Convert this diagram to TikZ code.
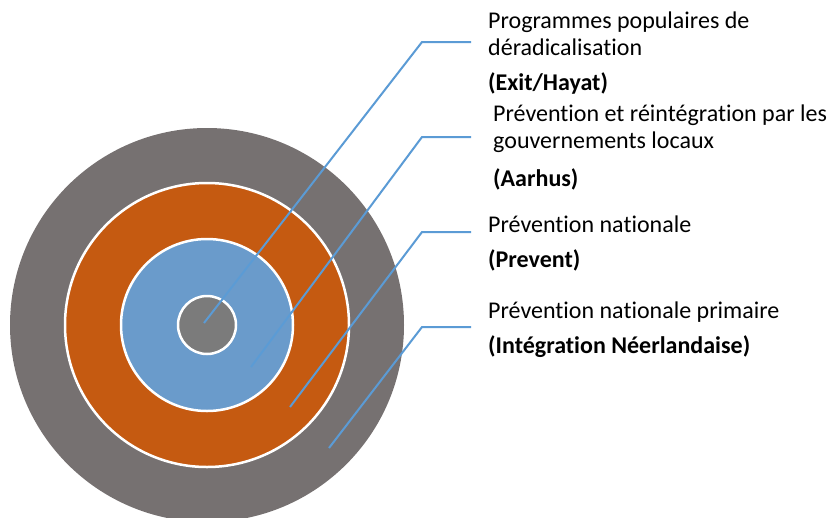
\documentclass[tikz,border=0pt]{standalone}
\usepackage{fontspec}
\setmainfont{Carlito}[RawFeature={-liga;-clig;-calt}]
\usetikzlibrary{positioning}
\definecolor{ringgray}{HTML}{767171}
\definecolor{ringorange}{HTML}{C55A11}
\definecolor{ringblue}{HTML}{6A9BCB}
\definecolor{coregray}{HTML}{7B7B7B}
\definecolor{leaderblue}{HTML}{5B9BD5}

\tikzset{
  ring/.style={draw=white, line width=2.5pt},
  leader/.style={draw=leaderblue, line width=2pt, shorten >=17pt},
  lbltext/.style={anchor=base west, inner sep=0pt, align=left,
    font=\fontsize{24}{27}\selectfont},
  lblname/.style={lbltext, font=\fontsize{24}{27}\selectfont\bfseries},
}

\begin{document}
\begin{tikzpicture}[x=1pt, y=-1pt]
  \useasboundingbox (0,0) rectangle (832,517);
  \clip (0,0) rectangle (832,517);

  % target rings, outside in
  \coordinate (c) at (207,325);
  \fill[ringgray] (c) circle (197);
  \filldraw[ring, fill=ringorange] (c) circle (142);
  \filldraw[ring, fill=ringblue] (c) circle (86);
  \filldraw[ring, fill=coregray] (c) circle (29);

  % labels (base is the last line)
  \node[lbltext] (exit) at (488,55) {Programmes populaires de\\d\'eradicalisation};
  \node[lblname] (exitN) at (488,90) {(Exit/Hayat)};
  \node[lbltext] (aarhus) at (493,148) {Pr\'evention et r\'eint\'egration par les\\gouvernements locaux};
  \node[lblname] (aarhusN) at (493,186) {(Aarhus)};
  \node[lbltext] (prevent) at (488,232) {Pr\'evention nationale};
  \node[lblname] (preventN) at (488,267) {(Prevent)};
  \node[lbltext] (primary) at (488,318) {Pr\'evention nationale primaire};
  \node[lblname] (primaryN) at (488,353) {(Int\'egration N\'eerlandaise)};

  % leader lines
  \coordinate (t1) at (204,323);  \coordinate (k1) at (422,42);
  \coordinate (t2) at (251,367);  \coordinate (k2) at (422,137);
  \coordinate (t3) at (290,407);  \coordinate (k3) at (422,232);
  \coordinate (t4) at (329,448);  \coordinate (k4) at (422,327);
  \draw[leader] (t1) -- (k1) -- (k1 -| exit.west);
  \draw[leader] (t2) -- (k2) -- (k2 -| exit.west);
  \draw[leader] (t3) -- (k3) -- (k3 -| prevent.west);
  \draw[leader] (t4) -- (k4) -- (k4 -| primary.west);
\end{tikzpicture}
\end{document}
